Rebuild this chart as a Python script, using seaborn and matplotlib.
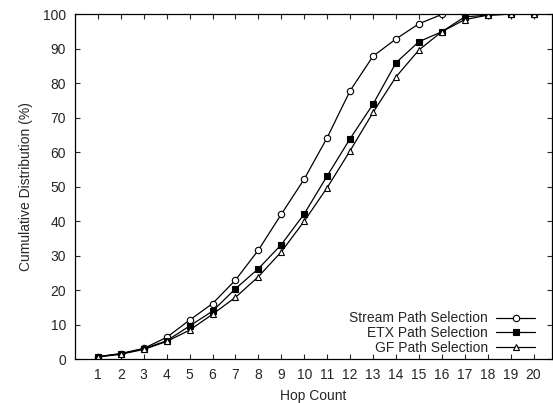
import pandas as pd
import matplotlib
matplotlib.use("Agg")
import matplotlib.pyplot as plt
import seaborn as sns

# values
hops = list(range(1, 21))
stream = [0.7, 1.6, 3.1, 6.3, 11.3, 16.1, 22.9, 31.6, 42.0, 52.2,
          64.2, 77.8, 87.8, 92.8, 97.2, 99.9, 100, 100, 100, 100]
etx = [0.7, 1.5, 3.0, 5.3, 9.6, 13.9, 20.4, 26.2, 33.2, 42.1,
       53.1, 63.9, 73.9, 85.9, 92.0, 94.9, 99.2, 99.7, 100, 100]
gf = [0.6, 1.4, 2.8, 5.1, 8.4, 13.0, 17.9, 23.9, 31.1, 40.0,
      49.7, 60.4, 71.5, 81.8, 89.6, 94.9, 98.4, 99.7, 100, 100]

series_names = ["Stream Path Selection", "ETX Path Selection", "GF Path Selection"]

sns.set_style("ticks")
plt.rcParams["font.family"] = ["Liberation Sans", "DejaVu Sans"]

fig = plt.figure(figsize=(5.53, 4.03), dpi=100)
ax = fig.add_axes([0.1356, 0.109, 0.8624, 0.856])

df = pd.DataFrame({"hop": hops, "stream": stream, "etx": etx, "gf": gf})

# Stream: open circle, ETX: filled square, GF: open triangle
sns.lineplot(data=df, x="hop", y="stream", ax=ax, color="black", lw=0.9,
             marker="o", markersize=4.6, markerfacecolor="white",
             markeredgecolor="black", markeredgewidth=0.8, label=series_names[0])
sns.lineplot(data=df, x="hop", y="etx", ax=ax, color="black", lw=0.9,
             marker="s", markersize=5.0, markerfacecolor="black",
             markeredgecolor="black", markeredgewidth=0.8, label=series_names[1])
sns.lineplot(data=df, x="hop", y="gf", ax=ax, color="black", lw=0.9,
             marker="^", markersize=4.6, markerfacecolor="white",
             markeredgecolor="black", markeredgewidth=0.8, label=series_names[2])

ax.set_xlim(0, 20.8)
ax.set_ylim(0, 100)
ax.set_xticks(hops)
ax.set_yticks(range(0, 101, 10))
ax.tick_params(direction="in", top=True, right=True, length=3.8, width=0.8,
               labelsize=10, pad=6.5)
for sp in ax.spines.values():
    sp.set_linewidth(0.9)
    sp.set_color("black")

ax.set_xlabel("Hop Count", fontsize=10, labelpad=5)
ax.set_ylabel("Cumulative Distribution (%)", fontsize=10, labelpad=7)

# right-aligned labels with the line sample after the text
ax.legend(loc="lower right", bbox_to_anchor=(0.985, -0.016), frameon=False,
          markerfirst=False, alignment="right", fontsize=10, handlelength=2.8,
          handletextpad=0.6, labelspacing=0.05, borderpad=0.2)

fig.savefig("out.png", dpi=100)
